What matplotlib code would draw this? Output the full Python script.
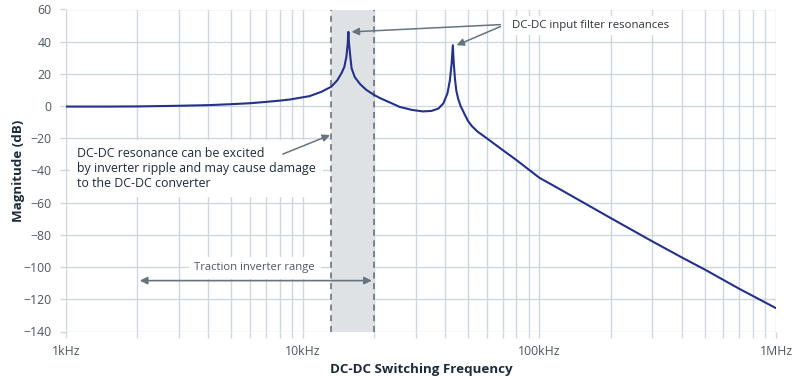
import matplotlib
matplotlib.use("Agg")
import matplotlib.pyplot as plt
from matplotlib.ticker import FixedLocator, LogLocator, NullFormatter

plt.rcParams['font.family'] = ['Open Sans', 'DejaVu Sans']

# Frequency response (Hz, dB)
freq_hz = [1000, 1500, 2000, 3000, 4000, 5000, 6000, 7000, 8000, 8840,
           10700, 12000, 13200, 14000, 14600, 15000, 15300, 15500, 15600, 15700,
           15900, 16100, 16600, 17500, 18600, 20000, 21200, 23400, 25700,
           29000, 32200, 35000, 37500, 39300, 40900, 41900, 42600, 43100, 43500,
           44000, 44600, 45400, 46500, 47600, 48300, 49000, 50000, 52000, 55000,
           60000, 70000, 80000, 90000,
           100000, 120000, 200000, 300000, 400000, 500000, 700000, 1000000]
magnitude_db = [-0.3, -0.3, -0.2, 0.2, 0.6, 1.2, 1.8, 2.6, 3.4, 4.1,
                6.2, 8.9, 12.0, 16.0, 20.5, 24.4, 30.6, 38.9, 46.1, 38.9,
                30.6, 23.4, 18.0, 13.6, 10.0, 7.0, 5.0, 2.2, -0.5,
                -2.4, -3.3, -3.0, -1.5, 1.7, 7.9, 16.1, 26.5, 37.8, 26.5,
                17.0, 9.5, 4.5, 0.0, -3.0, -5.0, -6.8, -9.3, -12.6, -16.0,
                -20.0, -27.3, -33.5, -39.3,
                -44.5, -51.0, -69.5, -84.0, -94.0, -101.5, -113.5, -125.5]

band_hz = [13200, 20000]            # shaded excitation band
inverter_range_hz = [2050, 19600]   # traction inverter range
peak1 = (16100, 46.1)
peak2 = (44700, 37.8)

y_ticks = [60, 40, 20, 0, -20, -40, -60, -80, -100, -120, -140]
x_ticks = [1e3, 1e4, 1e5, 1e6]
x_tick_labels = ['1kHz', '10kHz', '100kHz', '1MHz']

grid_c = '#cdd7de'
txt_c = '#4d5660'
dark_c = '#1c2b3a'
arrow_c = '#66747f'
line_c = '#23318a'

fig = plt.figure(figsize=(8.0, 3.77), dpi=100)
ax = fig.add_axes([66/800, 1-331.5/377, (776-66)/800, (331.5-9.5)/377])

ax.set_xscale('log')
ax.set_xlim(1e3, 1e6)
ax.set_ylim(-140, 60)

ax.xaxis.set_major_locator(FixedLocator(x_ticks))
ax.set_xticklabels(x_tick_labels)
ax.xaxis.set_minor_locator(LogLocator(base=10, subs=range(2, 10)))
ax.xaxis.set_minor_formatter(NullFormatter())
ax.set_yticks(y_ticks)
ax.set_yticklabels([str(v).replace('-', '\u2212') for v in y_ticks])

for s in ax.spines.values():
    s.set_visible(False)
ax.grid(True, which='major', axis='both', color=grid_c, lw=1.0, zorder=0)
ax.grid(True, which='minor', axis='x', color=grid_c, lw=1.0, zorder=0)
ax.tick_params(axis='both', which='both', color=grid_c, length=4, width=1.0,
               labelcolor=txt_c, labelsize=8.8)
ax.tick_params(axis='x', which='both', pad=6)
ax.tick_params(axis='y', pad=6.5)
ax.set_axisbelow(True)

ax.axvspan(band_hz[0], band_hz[1], color='#dfe2e5', zorder=1, lw=0)
for b in band_hz:
    ax.axvline(b, color='#5e6b77', lw=1.1, ls=(0, (4, 3)), zorder=2)

ax.plot(freq_hz, magnitude_db, color=line_c, lw=1.5, zorder=4)

ax.set_xlabel('DC-DC Switching Frequency', fontsize=9.6, fontweight='bold',
              color=dark_c, labelpad=3)
ax.set_ylabel('Magnitude (dB)', fontsize=9.6, fontweight='bold', color=dark_c)
ax.yaxis.set_label_coords(-0.058, 0.5)

# input filter resonance annotation
ax.text(76900, 50.2, 'DC-DC input filter resonances', fontsize=8.2, color='#2c333a',
        va='center', ha='left', zorder=6,
        bbox=dict(facecolor='white', edgecolor='none', pad=3))
for (px, py), sy in [(peak1, 50.6), (peak2, 49.4)]:
    ax.annotate('', xy=(px, py), xytext=(68500, sy),
                arrowprops=dict(arrowstyle='-|>', color=arrow_c, lw=1.1,
                                mutation_scale=11, shrinkA=0, shrinkB=0),
                zorder=5)

# resonance excitation note
ax.text(1113, -38.8, 'DC-DC resonance can be excited\nby inverter ripple and may cause damage\nto the DC-DC converter',
        fontsize=8.9, color=dark_c, va='center', ha='left', linespacing=1.2, zorder=6,
        bbox=dict(facecolor='white', edgecolor='none', pad=5))
ax.annotate('', xy=(13050, -18.0), xytext=(8250, -29.8),
            arrowprops=dict(arrowstyle='-|>', color=arrow_c, lw=1.1,
                            mutation_scale=11, shrinkA=0, shrinkB=0), zorder=7)

# traction inverter range
ax.annotate('', xy=(inverter_range_hz[0], -108.4), xytext=(inverter_range_hz[1], -108.4),
            arrowprops=dict(arrowstyle='<|-|>', color=arrow_c, lw=1.2,
                            mutation_scale=11, shrinkA=0, shrinkB=0), zorder=5)
ax.text(6270, -100.5, 'Traction inverter range', fontsize=8.1, color=txt_c,
        va='center', ha='center', zorder=6,
        bbox=dict(facecolor='white', edgecolor='none', pad=4))

fig.savefig('out.png', dpi=100)
